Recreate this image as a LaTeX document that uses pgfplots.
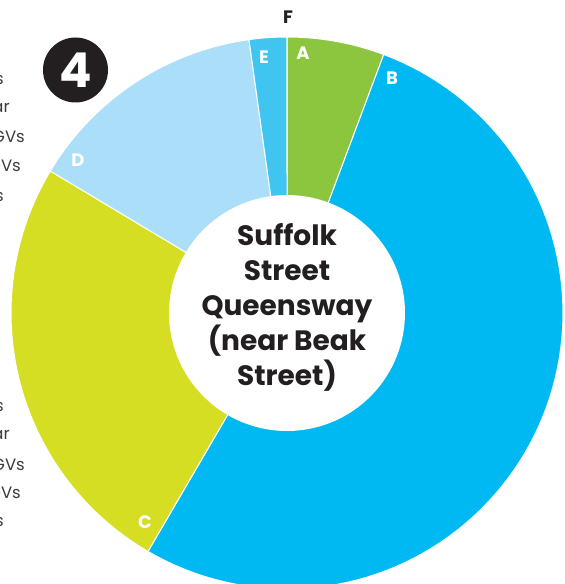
\documentclass[border=0pt]{standalone}
\usepackage{pgfplots}
\pgfplotsset{compat=1.18}
\usepackage{fontspec}
\setmainfont{Poppins}
\definecolor{cA}{HTML}{8CC63F}
\definecolor{cB}{HTML}{00B9F2}
\definecolor{cC}{HTML}{D6DE23}
\definecolor{cD}{HTML}{ABDEF9}
\definecolor{cE}{HTML}{3FC5F0}
\definecolor{ink}{HTML}{231F20}
\definecolor{gtext}{HTML}{3C3C3B}
% shares of the ring (per cent), clockwise from the top
\def\vA{5.7}\def\vB{52.7}\def\vC{25.2}\def\vD{14.2}\def\vE{2.2}
\pgfmathsetmacro\eA{\vA*3.6}
\pgfmathsetmacro\eB{\eA+\vB*3.6}
\pgfmathsetmacro\eC{\eB+\vC*3.6}
\pgfmathsetmacro\eD{\eC+\vD*3.6}
\pgfmathsetmacro\eE{\eD+\vE*3.6}
\def\R{276}
\def\r{118}
\newcommand{\wedgeplot}[3]{%
  \addplot[fill=#3, draw=white, line width=1pt, domain=#1:#2, samples=90]
    ({\R*sin(x)},{\R*cos(x)}) -- (axis cs:0,0) -- cycle;}
\begin{document}
\begin{tikzpicture}[x=1pt,y=1pt]
\useasboundingbox (0,0) rectangle (565,584);
\clip (0,0) rectangle (565,584);
% legend text, cropped at the left edge as in the reference
\begin{scope}[every node/.style={font=\fontsize{16.5}{16.5}\selectfont, text=gtext, inner sep=0pt}]
\node[anchor=base east] at (4,{584-85}) {Motorcycles};
\node[anchor=base east] at (10,{584-113}) {Car};
\node[anchor=base east] at (25,{584-143}) {LGVs};
\node[anchor=base east] at (21,{584-172}) {HGVs};
\node[anchor=base east] at (4,{584-202}) {Buses};
\node[anchor=base east] at (4,{584-412}) {Motorcycles};
\node[anchor=base east] at (10,{584-440}) {Car};
\node[anchor=base east] at (25,{584-471}) {LGVs};
\node[anchor=base east] at (21,{584-499}) {HGVs};
\node[anchor=base east] at (4,{584-527}) {Buses};
\end{scope}
% number badge
\fill[ink] (75.5,514) circle (32.5);
\node[text=white, font=\fontsize{48}{48}\selectfont\bfseries, inner sep=0pt] at (75.5,514) {4};
\begin{axis}[at={(287,271)}, anchor=origin, x=1pt, y=1pt,
  xmin=-287, xmax=278, ymin=-271, ymax=313, hide axis]
\wedgeplot{0}{\eA}{cA}
\wedgeplot{\eA}{\eB}{cB}
\wedgeplot{\eB}{\eC}{cC}
\wedgeplot{\eC}{\eD}{cD}
\wedgeplot{\eD}{\eE}{cE}
\addplot[fill=white, draw=none, domain=0:360, samples=150] ({\r*sin(x)},{\r*cos(x)}) -- cycle;
\end{axis}
\begin{scope}[shift={(287,271)}, every node/.style={font=\fontsize{18}{18}\selectfont\bfseries, text=white, inner sep=0pt}]
\node at (16,260) {A};
\node at (105,235) {B};
\node at (-142,-209) {C};
\node at (-209,153) {D};
\node at (-23,256) {E};
\node[text=ink] at (1,296) {F};
\node[text=ink, font=\fontsize{28}{35}\selectfont\bfseries, align=center] at (0,6)
  {Suffolk\\Street\\Queensway\\(near Beak\\Street)};
\end{scope}
\end{tikzpicture}
\end{document}
